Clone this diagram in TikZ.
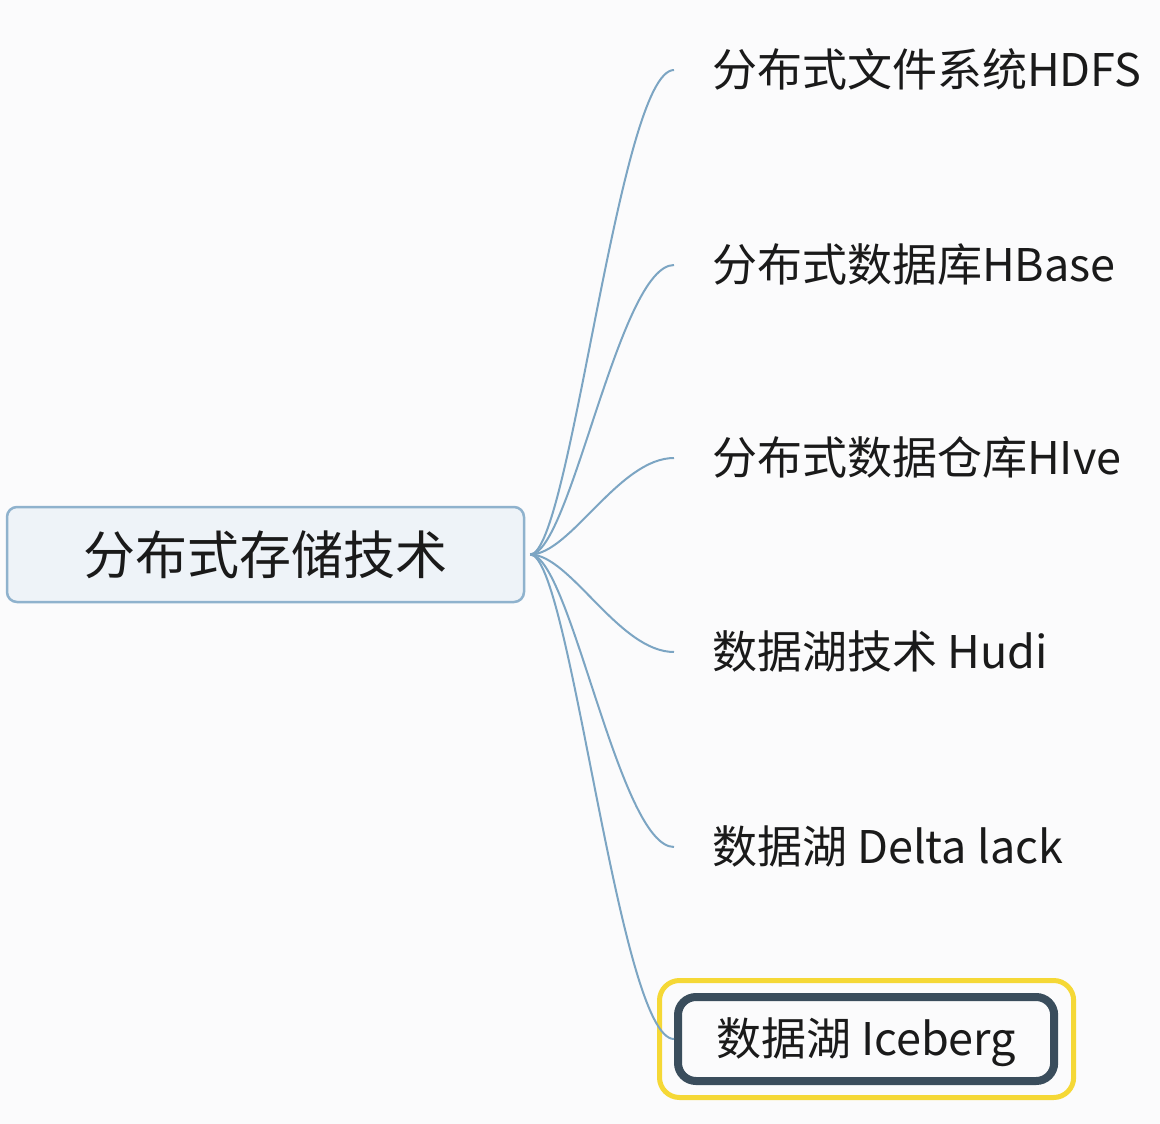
\documentclass[tikz,border=0pt]{standalone}
\usepackage{fontspec}
\setmainfont{Noto Sans CJK SC}
\usetikzlibrary{calc}
\definecolor{bg}{HTML}{FBFBFC}
\definecolor{linkc}{HTML}{7CA5C3}
\definecolor{rootfill}{HTML}{EEF3F8}
\definecolor{rootdraw}{HTML}{8FB2CD}
\definecolor{txt}{HTML}{1A1A1A}
\definecolor{selbox}{HTML}{3A4D5C}
\definecolor{hl}{HTML}{F5D836}
\tikzset{
  rootbox/.style={draw=rootdraw, line width=2.5pt, fill=rootfill, rounded corners=10pt,
    minimum width=517pt, minimum height=95pt, inner sep=0pt, text=txt,
    font=\fontsize{52}{60}\selectfont},
  childnode/.style={anchor=west, inner xsep=38pt, inner ysep=0pt, text=txt,
    text height=38pt, text depth=6pt,
    font=\fontsize{45}{52}\selectfont},
  selnode/.style={draw=selbox, line width=8pt, rounded corners=18pt, minimum height=84pt},
  link/.style={draw=linkc, line width=2pt},
  hlbox/.style={draw=hl, line width=5pt, rounded corners=20pt}
}
\begin{document}
\begin{tikzpicture}[x=1pt,y=-1pt]
\fill[bg] (0,0) rectangle (1160,1124);
\useasboundingbox (0,0) rectangle (1160,1124);
\node[rootbox] (root) at (265.5,554.5) {分布式存储技术};
\node[childnode] (c1) at (674,70) {分布式文件系统HDFS};
\node[childnode] (c2) at (674,265) {分布式数据库HBase};
\node[childnode] (c3) at (674,458) {分布式数据仓库HIve};
\node[childnode] (c4) at (674,652) {数据湖技术 Hudi};
\node[childnode] (c5) at (674,847) {数据湖 Delta lack};
\node[childnode,selnode] (c6) at (674,1039) {数据湖 Iceberg};
\draw[hlbox] ($(c6.north west)+(-14.5,-12.5)$) rectangle ($(c6.south east)+(15.5,12.5)$);
\foreach \c in {c1,c2,c3,c4,c5,c6}
  \draw[link] ($(root.east)+(5,0)$) .. controls ($(root.east)+(45,0)$) and ($(\c.west)+(-55,0)$) .. (\c.west);
\end{tikzpicture}
\end{document}
